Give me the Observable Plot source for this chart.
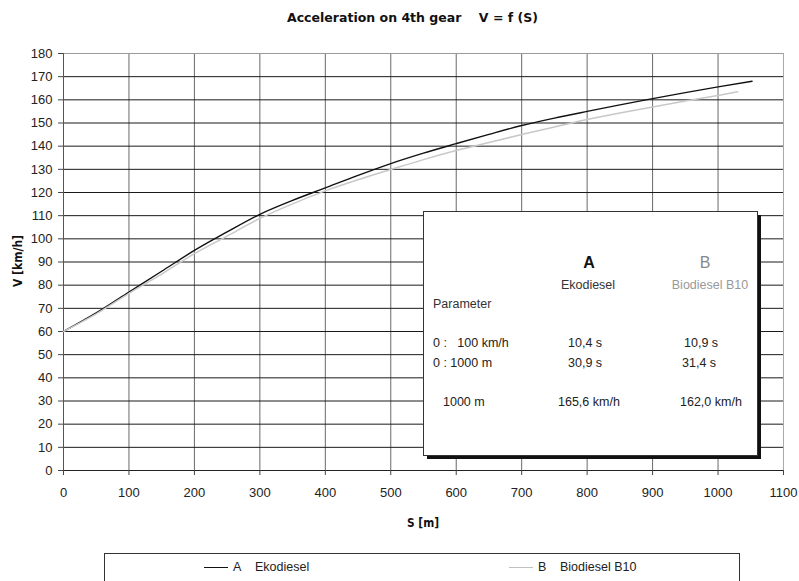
<!DOCTYPE html>
<html>
<head>
<meta charset="utf-8">
<script src="https://cdn.jsdelivr.net/npm/d3@7"></script>
<script src="https://cdn.jsdelivr.net/npm/@observablehq/plot@0.6"></script>
<style>
  html, body { margin: 0; padding: 0; background: #fff; }
  svg text { white-space: pre; }
</style>
</head>
<body>
<div id="chart"></div>
<script>
// ---- data ----
const title = "Acceleration on 4th gear    V = f (S)";
const xLabel = "S [m]";
const yLabel = "V [km/h]";
const xTicks = [0, 100, 200, 300, 400, 500, 600, 700, 800, 900, 1000, 1100];
const yTicks = [0, 10, 20, 30, 40, 50, 60, 70, 80, 90, 100, 110, 120, 130, 140, 150, 160, 170, 180];

const seriesKeys = ["A", "B"];
const seriesNames = ["Ekodiesel", "Biodiesel B10"];
const S_A = [0, 50, 100, 150, 200, 250, 300, 350, 400, 450, 500, 550, 600, 650, 700, 750, 800, 850, 900, 950, 1000, 1052];
const V_A = [60, 68, 77, 86, 95, 103, 110.6, 116.6, 122, 127.4, 132.5, 137, 141.1, 145.1, 148.9, 152.1, 155, 157.8, 160.5, 163.1, 165.6, 168];
const S_B = [0, 50, 100, 150, 200, 250, 300, 350, 400, 450, 500, 550, 600, 650, 700, 750, 800, 850, 900, 950, 1000, 1030];
const V_B = [60, 67.6, 76.5, 84.8, 93.6, 101.2, 108.8, 115.1, 120.7, 125.5, 129.9, 134.2, 138.1, 141.6, 145, 148.3, 151.5, 154.3, 156.9, 159.5, 161.9, 163.5];

// inset table
const tableHead = ["A", "B"];
const tableSub = ["Ekodiesel", "Biodiesel B10"];
const paramLabel = "Parameter";
const rowLabels = ["0 :   100 km/h", "0 : 1000 m", "1000 m"];
const colA = ["10,4 s", "30,9 s", "165,6 km/h"];
const colB = ["10,9 s", "31,4 s", "162,0 km/h"];

const dataA = S_A.map((s, i) => ({S: s, V: V_A[i]}));
const dataB = S_B.map((s, i) => ({S: s, V: V_B[i]}));

const W = 799, H = 581;
const mL = 63, mR = 16, mT = 53, mB = 111;
const FONT = "'Liberation Sans', Arial, sans-serif";

const plot = Plot.plot({
  width: W, height: H,
  marginLeft: mL, marginRight: mR, marginTop: mT, marginBottom: mB,
  style: {background: "#ffffff", fontFamily: FONT, fontSize: "13px", color: "#222"},
  x: {domain: [0, 1100], ticks: xTicks, label: null},
  y: {domain: [0, 180], ticks: yTicks, label: null},
  marks: [
    Plot.gridX(xTicks, {stroke: "#6a6a6a", strokeOpacity: 1, strokeWidth: 1}),
    Plot.gridY(yTicks, {stroke: "#1a1a1a", strokeOpacity: 1, strokeWidth: 1}),
    Plot.ruleY([180], {stroke: "#9a9a9a", strokeWidth: 1}),
    Plot.ruleX([1100], {stroke: "#aaaaaa", strokeWidth: 1}),
    Plot.ruleX([0], {stroke: "#555", strokeWidth: 1}),
    Plot.ruleY([0], {stroke: "#222", strokeWidth: 1}),
    Plot.axisX(xTicks, {tickSize: 5, tickPadding: 12, stroke: "#444", fill: "#222", fontSize: 13, label: null, tickFormat: d => String(d)}),
    Plot.axisY(yTicks, {tickSize: 5, tickPadding: 6, stroke: "#444", fill: "#222", fontSize: 13, label: null, tickFormat: d => String(d)}),
    Plot.line(dataA, {x: "S", y: "V", stroke: "#111", strokeWidth: 1.4, curve: "monotone-x"}),
    Plot.line(dataB, {x: "S", y: "V", stroke: "#c8c8c8", strokeWidth: 1.5, curve: "monotone-x"})
  ]
});

document.getElementById("chart").appendChild(plot);
const svg = d3.select(plot);

// title
svg.append("text")
  .attr("x", 287).attr("y", 22).attr("text-anchor", "start")
  .attr("textLength", 251).attr("lengthAdjust", "spacingAndGlyphs")
  .attr("font-family", "'DejaVu Sans', sans-serif").attr("font-weight", "bold")
  .attr("font-size", 13).attr("fill", "#111")
  .text(title);

// axis labels
svg.append("text")
  .attr("x", 423).attr("y", 527).attr("text-anchor", "middle")
  .attr("font-family", "'DejaVu Sans', sans-serif").attr("font-weight", "bold")
  .attr("font-size", 13).attr("fill", "#111")
  .attr("textLength", 32).attr("lengthAdjust", "spacingAndGlyphs")
  .text(xLabel);
svg.append("text")
  .attr("transform", "translate(22,261) rotate(-90)").attr("text-anchor", "middle")
  .attr("font-family", "'DejaVu Sans', sans-serif").attr("font-weight", "bold")
  .attr("font-size", 13).attr("fill", "#111")
  .attr("textLength", 52).attr("lengthAdjust", "spacingAndGlyphs")
  .text(yLabel);

// inset box with shadow
const inset = svg.append("g");
inset.append("rect").attr("x", 427).attr("y", 215).attr("width", 334).attr("height", 244).attr("fill", "#111");
inset.append("rect").attr("x", 423.5).attr("y", 211.5).attr("width", 334).attr("height", 244)
  .attr("fill", "#fff").attr("stroke", "#333").attr("stroke-width", 1);
const t = (x, y, s, opts = {}) => inset.append("text")
  .attr("x", x).attr("y", y).attr("font-family", FONT)
  .attr("font-size", opts.size || 12.5).attr("fill", opts.fill || "#222")
  .attr("text-anchor", opts.anchor || "start").attr("dy", "0.35em")
  .attr("font-weight", opts.weight || "normal").text(s);
t(589, 262, tableHead[0], {anchor: "middle", size: 16, fill: "#111", weight: "bold"});
t(705, 262, tableHead[1], {anchor: "middle", size: 16, fill: "#888"});
t(588, 285, tableSub[0], {anchor: "middle", fill: "#333"});
t(710, 285, tableSub[1], {anchor: "middle", fill: "#999"});
t(433, 304, paramLabel, {fill: "#333"});
const rowY = [343, 363, 402];
t(433, rowY[0], rowLabels[0]);
t(433, rowY[1], rowLabels[1]);
t(443, rowY[2], rowLabels[2]);
t(568, rowY[0], colA[0]);
t(568, rowY[1], colA[1]);
t(558, rowY[2], colA[2]);
t(684, rowY[0], colB[0]);
t(682, rowY[1], colB[1]);
t(680, rowY[2], colB[2]);

// legend box
const lg = svg.append("g").attr("text-anchor", "start");
lg.append("rect").attr("x", 104.5).attr("y", 553.5).attr("width", 635).attr("height", 40)
  .attr("fill", "#fff").attr("stroke", "#333").attr("stroke-width", 1);
const legendItems = [
  {x1: 204, color: "#111", key: seriesKeys[0], name: seriesNames[0]},
  {x1: 509, color: "#c0c0c0", key: seriesKeys[1], name: seriesNames[1]}
];
legendItems.forEach(it => {
  lg.append("line").attr("x1", it.x1).attr("x2", it.x1 + 24).attr("y1", 567.5).attr("y2", 567.5)
    .attr("stroke", it.color).attr("stroke-width", 1);
  lg.append("text").attr("x", it.x1 + 29).attr("y", 567).attr("dy", "0.35em").attr("text-anchor", "start")
    .attr("font-family", FONT).attr("font-size", 12.5).attr("fill", "#222").text(it.key);
  lg.append("text").attr("x", it.x1 + 51).attr("y", 567).attr("dy", "0.35em").attr("text-anchor", "start")
    .attr("font-family", FONT).attr("font-size", 12.5).attr("fill", "#222").text(it.name);
});
</script>
</body>
</html>
